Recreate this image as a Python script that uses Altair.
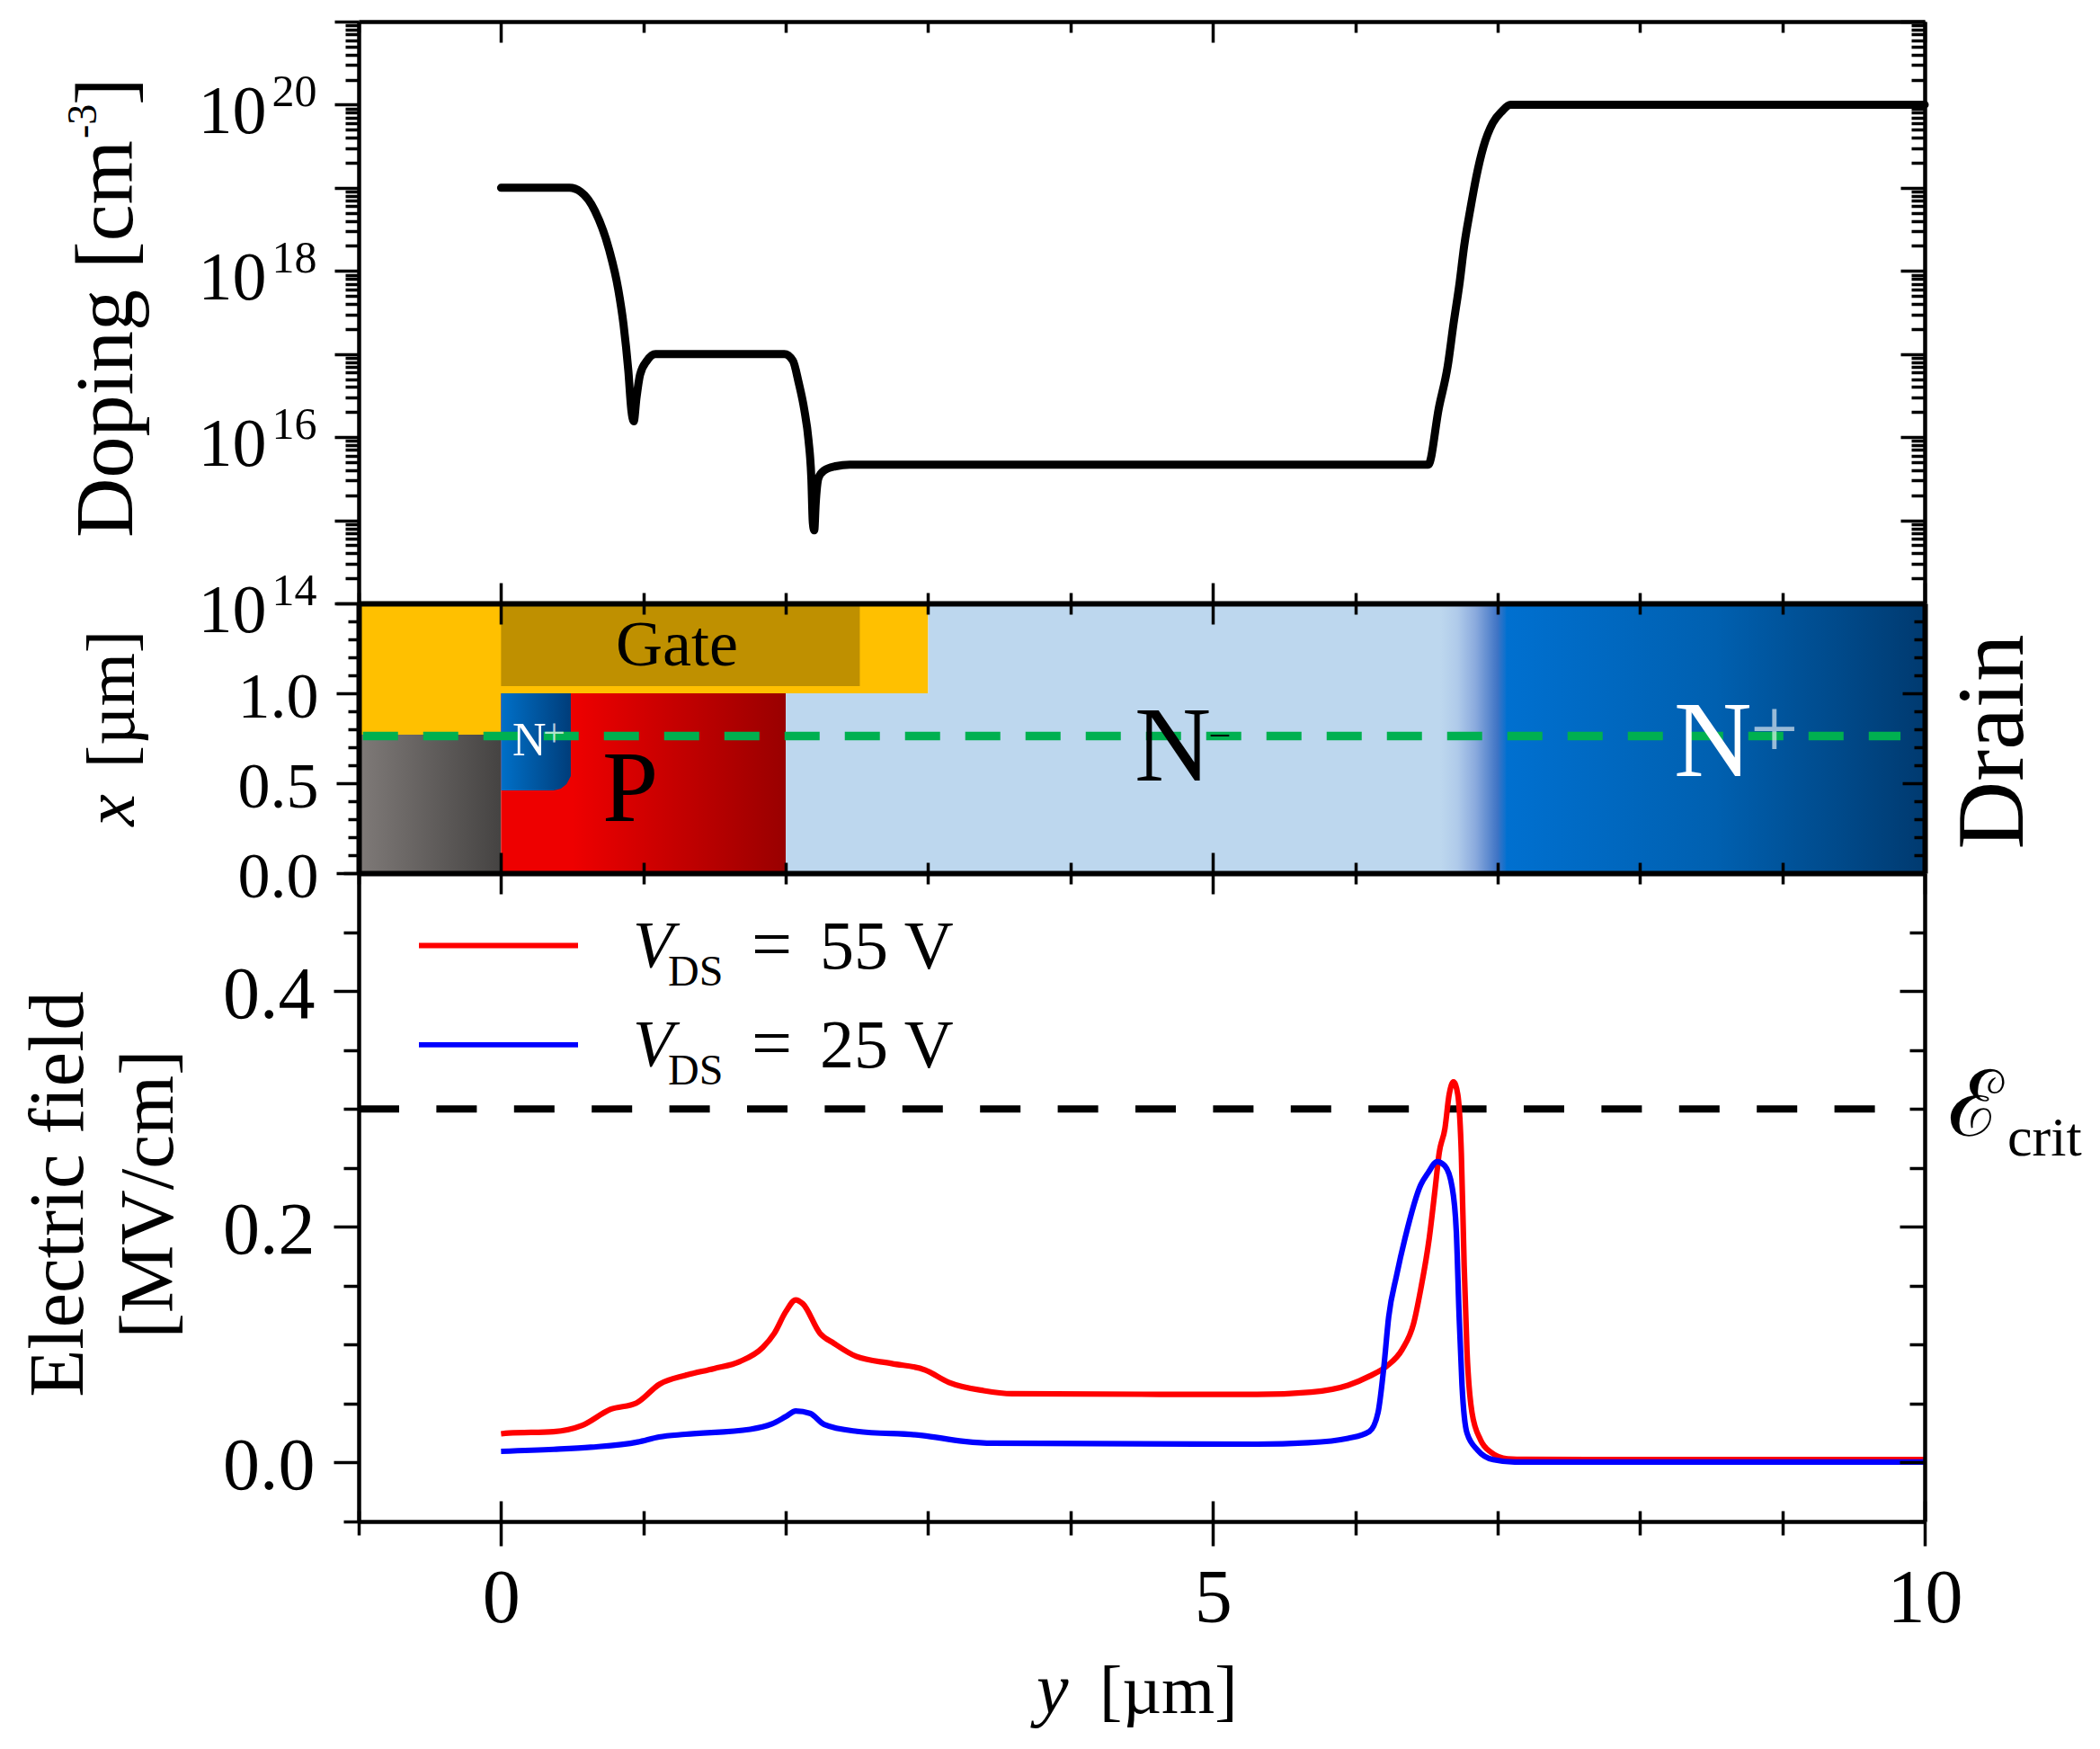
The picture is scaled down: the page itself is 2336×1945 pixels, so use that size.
import altair as alt
import pandas as pd

FONT = "Liberation Serif"
W = 1742
H_TOP, H_MID, H_BOT = 647, 300, 721

# ---- data ----
doping_y = [0, 0.48, 0.56, 0.66, 0.76, 0.823, 0.86, 0.894, 0.915, 0.932, 0.951, 0.976, 1.025, 1.085,
            1.99, 2.05, 2.09, 2.13, 2.16, 2.18, 2.19, 2.2, 2.21, 2.23, 2.27, 2.35, 2.45,
            6.513, 6.587, 6.65, 6.69, 6.734, 6.765, 6.807, 6.85, 6.90, 6.966, 7.03, 7.09, 10]
doping_exp = [19.0, 19.0, 18.95, 18.72, 18.25, 17.78, 17.36, 16.8, 16.33, 16.19, 16.47, 16.75, 16.92, 17.0,
              17.0, 16.92, 16.66, 16.33, 15.96, 15.49, 14.97, 14.88, 15.2, 15.51, 15.6, 15.65, 15.67,
              15.67, 16.35, 16.86, 17.36, 17.87, 18.3, 18.73, 19.13, 19.49, 19.78, 19.92, 20.0, 20.0]

red_y = [0, 0.054, 0.369, 0.57, 0.77, 0.951, 1.114, 1.295, 1.496, 1.677, 1.838, 1.92, 2.0, 2.07, 2.12,
         2.24, 2.34, 2.495, 2.745, 2.98, 3.146, 3.39, 3.59, 5.31, 5.69, 5.95, 6.10, 6.22, 6.33, 6.41,
         6.46, 6.52, 6.56, 6.59, 6.63, 6.66, 6.69, 6.72, 6.745, 6.765, 6.785, 6.82, 6.88, 6.95, 7.07, 7.2, 10]
red_e = [0.0244, 0.025, 0.0262, 0.0315, 0.0452, 0.0505, 0.0665, 0.074, 0.0797, 0.0857, 0.0976, 0.1097, 0.128,
         0.138, 0.1347, 0.1097, 0.101, 0.090, 0.084, 0.0785, 0.068, 0.061, 0.0584, 0.0578, 0.0598, 0.0656,
         0.0733, 0.0817, 0.096, 0.118, 0.147, 0.1905, 0.231, 0.263, 0.2834, 0.3124, 0.3229, 0.3124, 0.263,
         0.1673, 0.0945, 0.0424, 0.0193, 0.009, 0.0032, 0.0027, 0.0025]

blue_y = [0, 0.37, 0.63, 0.96, 1.11, 1.295, 1.75, 1.9, 2.0, 2.07, 2.17, 2.27, 2.5, 2.96, 3.25, 3.45,
          5.31, 5.67, 5.95, 6.10, 6.16, 6.2, 6.235, 6.29, 6.35, 6.46, 6.51, 6.575, 6.63, 6.68, 6.71,
          6.73, 6.75, 6.785, 6.86, 6.97, 7.12, 10]
blue_e = [0.0095, 0.0112, 0.013, 0.0174, 0.0217, 0.024, 0.0282, 0.0326, 0.039, 0.0437, 0.0417, 0.0323, 0.0265,
          0.023, 0.018, 0.0164, 0.0156, 0.0168, 0.0206, 0.0264, 0.0424, 0.08, 0.1237, 0.1586, 0.1905, 0.2356,
          0.2455, 0.2553, 0.2516, 0.234, 0.196, 0.1237, 0.0657, 0.025, 0.0105, 0.0024, 0.0004, 0.0004]

x_major = [0, 5, 10]
x_minor = [-1, 1, 2, 3, 4, 6, 7, 8, 9]
dop_major = [10.0**k for k in range(14, 22)]
dop_labels = [1e14, 1e16, 1e18, 1e20]
dop_minor = [m * 10.0**k for k in range(14, 21) for m in range(2, 10)]
mid_major = [0, 0.5, 1.0, 1.5]
mid_minor = [0.1, 0.2, 0.3, 0.4, 0.6, 0.7, 0.8, 0.9, 1.1, 1.2, 1.3, 1.4]
bot_major = [0.0, 0.2, 0.4]
bot_minor = [-0.05, 0.05, 0.1, 0.15, 0.25, 0.3, 0.35, 0.45, 0.5]

xs = alt.Scale(domain=[-1, 10], nice=False, zero=False)
ys_top = alt.Scale(type="log", domain=[1e14, 1e21], nice=False)
ys_mid = alt.Scale(domain=[0, 1.5], nice=False, zero=False)
ys_bot = alt.Scale(domain=[-0.05, 0.5], nice=False, zero=False)


def tick_layers(ys, H, ymaj, ymin, domain_w=4.5, ymaj_size=27, ymin_size=15, dummy_y=None):
    dummy = pd.DataFrame({"x": [0.0], "y": [dummy_y]})
    common = dict(grid=False, labels=False, title=None, zindex=1, tickColor="black", domainColor="black",
                  tickWidth=3.5)
    def ax(orient, offset, values, size, domain):
        return alt.Axis(orient=orient, offset=offset, values=values, tickSize=size, domain=domain,
                        domainWidth=domain_w, **common)
    sets = [
        (ax("top", -H, x_major, 23, True), ax("left", 0, ymaj, ymaj_size, True)),
        (ax("top", -H, x_minor, 12, False), ax("left", 0, ymin, ymin_size, False)),
        (ax("bottom", -H, x_major, 23, True), ax("left", -W, ymaj, ymaj_size, True)),
        (ax("bottom", -H, x_minor, 12, False), ax("left", -W, ymin, ymin_size, False)),
    ]
    out = []
    for ax_x, ax_y in sets:
        out.append(alt.Chart(dummy).mark_point(opacity=0).encode(
            x=alt.X("x:Q", scale=xs, axis=ax_x), y=alt.Y("y:Q", scale=ys, axis=ax_y)))
    return out


def txt(s, x, y, size, angle=0, align="left", style="normal", color="black", opacity=1.0, font=FONT):
    return alt.Chart(pd.DataFrame({"t": [s]})).mark_text(
        font=font, fontSize=size, angle=angle, align=align, baseline="alphabetic", fontStyle=style,
        color=color, opacity=opacity).encode(x=alt.value(x), y=alt.value(y), text="t:N")


def flat_rect(y0, y1, x0, x1, color, ys):
    d = pd.DataFrame({"a": [y0], "b": [y1], "c": [x0], "d": [x1]})
    return alt.Chart(d).mark_rect(color=color).encode(
        x=alt.X("a:Q", scale=xs, axis=None), x2="b:Q",
        y=alt.Y("c:Q", scale=ys, axis=None), y2="d:Q")


def grad(stops):
    return alt.Gradient(gradient="linear", x1=0, x2=1, y1=0, y2=0,
                        stops=[alt.GradientStop(color=c, offset=o) for o, c in stops])


def grad_rect(y0, y1, x0, x1, stops, ys):
    d = pd.DataFrame({"a": [y0], "b": [y1], "c": [x0], "d": [x1]})
    return alt.Chart(d).mark_rect(color=grad(stops)).encode(
        x=alt.X("a:Q", scale=xs, axis=None), x2="b:Q",
        y=alt.Y("c:Q", scale=ys, axis=None), y2="d:Q")


# ---------- top panel ----------
dop_df = pd.DataFrame({"y": doping_y, "n": [10.0**v for v in doping_exp]})
dop_line = alt.Chart(dop_df).mark_line(color="black", strokeWidth=9, interpolate="monotone", strokeCap="round",
                                       strokeJoin="round").encode(
    x=alt.X("y:Q", scale=xs, axis=None), y=alt.Y("n:Q", scale=ys_top, axis=None))
lab_dummy = pd.DataFrame({"x": [0.0], "y": [1e16]})
lab_base = dict(grid=False, ticks=False, domain=False, title=None, zindex=1, labelFont=FONT, labelColor="black",
                labelOverlap=False, labelBound=False, labelFlush=False)
dop_labs = alt.Chart(lab_dummy).mark_point(opacity=0).encode(
    x=alt.X("x:Q", scale=xs, axis=None),
    y=alt.Y("y:Q", scale=ys_top, axis=alt.Axis(orient="left", values=dop_labels, labelExpr="'10'", labelFontSize=76,
                                                labelPadding=103, labelOffset=8, **lab_base)))
dop_exps = alt.Chart(lab_dummy).mark_point(opacity=0).encode(
    x=alt.X("x:Q", scale=xs, axis=None),
    y=alt.Y("y:Q", scale=ys_top, axis=alt.Axis(orient="left", values=dop_labels,
                                                labelExpr="format(round(log(datum.value)/LN10),'d')",
                                                labelFontSize=50, labelPadding=47, labelOffset=-14, **lab_base)))
top = alt.layer(
    dop_line, dop_labs, dop_exps,
    *tick_layers(ys_top, H_TOP, dop_major, dop_minor, dummy_y=1e16),
    txt("Doping [cm", -252, 574, 92, angle=270),
    txt("-3", 108 - 400, 130, 46, angle=270),
    txt("]", -252, 93, 92, angle=270),
).resolve_axis(x="independent", y="independent").properties(width=W, height=H_TOP)

# ---------- middle panel ----------
src_y = [0.0, 0.37, 0.42, 0.46, 0.49]
src_low = [0.46, 0.46, 0.47, 0.495, 0.54]
src_high = [1.0, 1.0, 1.0, 1.0, 1.0]
src_df = pd.DataFrame({"a": src_y, "l": src_low, "h": src_high})
source_area = alt.Chart(src_df).mark_area(color=grad([(0, "#0070C8"), (1, "#003D7A")])).encode(
    x=alt.X("a:Q", scale=xs, axis=None),
    y=alt.Y("l:Q", scale=ys_mid, axis=None), y2="h:Q")
green = alt.Chart(pd.DataFrame({"a": [-0.97], "b": [9.83], "c": [0.762]})).mark_rule(
    color="#00B050", strokeWidth=9.5, strokeDash=[39, 28], strokeCap="butt").encode(
    x=alt.X("a:Q", scale=xs, axis=None), x2="b:Q", y=alt.Y("c:Q", scale=ys_mid, axis=None))
mid_lab = alt.Chart(pd.DataFrame({"x": [0.0], "y": [0.5]})).mark_point(opacity=0).encode(
    x=alt.X("x:Q", scale=xs, axis=None),
    y=alt.Y("y:Q", scale=ys_mid, axis=alt.Axis(orient="left", values=[0.0, 0.5, 1.0], format=".1f", labelFontSize=72,
                                                labelPadding=45, labelOffset=4, **lab_base)))
mid = alt.layer(
    flat_rect(-1, 3, 1.0, 1.5, "#FFC000", ys_mid),
    flat_rect(-1, 0, 0.77, 1.0, "#FFC000", ys_mid),
    flat_rect(0, 2.52, 1.04, 1.5, "#BF9000", ys_mid),
    grad_rect(-1, 0, 0, 0.77, [(0, "#7F7A78"), (1, "#454342")], ys_mid),
    grad_rect(0, 2, 0, 1.0, [(0, "#EE0000"), (0.25, "#EE0000"), (1, "#990000")], ys_mid),
    source_area,
    flat_rect(2, 6.5, 0, 1.0, "#BDD7EE", ys_mid),
    flat_rect(3, 6.5, 1.0, 1.5, "#BDD7EE", ys_mid),
    grad_rect(6.48, 7.07, 0, 1.5, [(0, "#BDD7EE"), (0.2, "#BDD7EE"), (0.4, "#B0CBEA"), (0.62, "#8AAADD"), (0.88, "#3F74C5"), (1, "#0070D0")], ys_mid),
    grad_rect(7.06, 10, 0, 1.5, [(0, "#0070D0"), (0.5, "#0060B0"), (1, "#003A70")], ys_mid),
    green,
    txt("Gate", 686 - 400, 740 - 671, 72),
    txt("P", 671 - 400, 913 - 671, 112),
    txt("N", 571 - 400, 840 - 671, 52, color="white"),
    txt("+", 605 - 400, 830 - 671, 44, color="white", opacity=0.7),
    txt("N", 1263 - 400, 868 - 671, 118),
    txt("\u2013", 1348 - 400, 827 - 671, 40),
    txt("N", 1863 - 400, 863 - 671, 120, color="white"),
    txt("+", 1948 - 400, 842 - 671, 95, color="white", opacity=0.6),
    mid_lab,
    *tick_layers(ys_mid, H_MID, mid_major, mid_minor, domain_w=6, ymaj_size=25, ymin_size=12, dummy_y=0.5),
    txt("[\u00b5m]", -250, 106.6, 76, angle=270, align="center"),
    txt("x", -250, 230, 80, angle=270, align="center", style="italic"),
    txt("Drain", 1851, 154, 105, angle=270, align="center"),
).resolve_axis(x="independent", y="independent").properties(width=W, height=H_MID)

# ---------- bottom panel ----------
red_df = pd.DataFrame({"y": red_y, "e": red_e})
blue_df = pd.DataFrame({"y": blue_y, "e": blue_e})
red_line = alt.Chart(red_df).mark_line(color="#FF0000", strokeWidth=6.2, interpolate="monotone", strokeJoin="round").encode(
    x=alt.X("y:Q", scale=xs, axis=None), y=alt.Y("e:Q", scale=ys_bot, axis=None))
blue_line = alt.Chart(blue_df).mark_line(color="#0000FF", strokeWidth=6.2, interpolate="monotone", strokeJoin="round").encode(
    x=alt.X("y:Q", scale=xs, axis=None), y=alt.Y("e:Q", scale=ys_bot, axis=None))
crit = alt.Chart(pd.DataFrame({"a": [-1.0], "b": [9.67], "c": [0.3]})).mark_rule(
    color="black", strokeWidth=8, strokeDash=[45, 41.4], strokeCap="butt").encode(
    x=alt.X("a:Q", scale=xs, axis=None), x2="b:Q", y=alt.Y("c:Q", scale=ys_bot, axis=None))
bot_lab = alt.Chart(pd.DataFrame({"x": [0.0], "y": [0.2]})).mark_point(opacity=0).encode(
    x=alt.X("x:Q", scale=xs, axis=alt.Axis(orient="bottom", values=x_major, format="d", labelFontSize=84,
                                            labelPadding=45, **lab_base)),
    y=alt.Y("y:Q", scale=ys_bot, axis=alt.Axis(orient="left", values=bot_major, format=".1f", labelFontSize=82,
                                                labelPadding=49, labelOffset=4, **lab_base)))
outx = alt.Chart(pd.DataFrame({"x": [0.0], "y": [0.2]})).mark_point(opacity=0).encode(
    x=alt.X("x:Q", scale=xs, axis=alt.Axis(orient="bottom", values=x_major, tickSize=27, tickColor="black",
                                            tickWidth=3.5, domain=False, labels=False, grid=False, title=None, zindex=1)),
    y=alt.Y("y:Q", scale=ys_bot, axis=None))
outx2 = alt.Chart(pd.DataFrame({"x": [0.0], "y": [0.2]})).mark_point(opacity=0).encode(
    x=alt.X("x:Q", scale=xs, axis=alt.Axis(orient="bottom", values=x_minor, tickSize=15, tickColor="black",
                                            tickWidth=3.5, domain=False, labels=False, grid=False, title=None, zindex=1)),
    y=alt.Y("y:Q", scale=ys_bot, axis=None))


def legend_row(color, y, value):
    rule = alt.Chart(pd.DataFrame({"k": [value]})).mark_rule(color=color, strokeWidth=5.8).encode(
        x=alt.value(67), x2=alt.value(244), y=alt.value(y))
    return [rule,
            txt("V", 305, y + 24.5, 74, style="italic"),
            txt("DS", 344, y + 44.5, 48),
            txt("=", 437, y + 25.5, 80),
            txt(value + " V", 513, y + 25.5, 76)]


bot = alt.layer(
    crit, red_line, blue_line,
    *legend_row("#FF0000", 80.5, "55"),
    *legend_row("#0000FF", 190.8, "25"),
    bot_lab, outx, outx2,
    *tick_layers(ys_bot, H_BOT, bot_major, bot_minor, ymaj_size=28, ymin_size=17, dummy_y=0.2),
    txt("Electric field", -307, 357, 87, angle=270, align="center"),
    txt("[MV/cm]", -207, 357, 85, angle=270, align="center"),
    txt("\u2130", 1768, 292, 102),
    txt("crit", 1834, 314, 62),
    txt("y", 754, 934, 80, style="italic"),
    txt("[\u00b5m]", 824, 934, 76),
).resolve_axis(x="independent", y="independent").properties(width=W, height=H_BOT)

chart = alt.vconcat(
    top, mid, bot, spacing=0, bounds="flush",
    padding={"left": 14, "top": 14, "right": 5, "bottom": 5}, background="white").configure_view(stroke=None)

chart.save("out.html", embed_options={"renderer": "svg", "actions": False})
